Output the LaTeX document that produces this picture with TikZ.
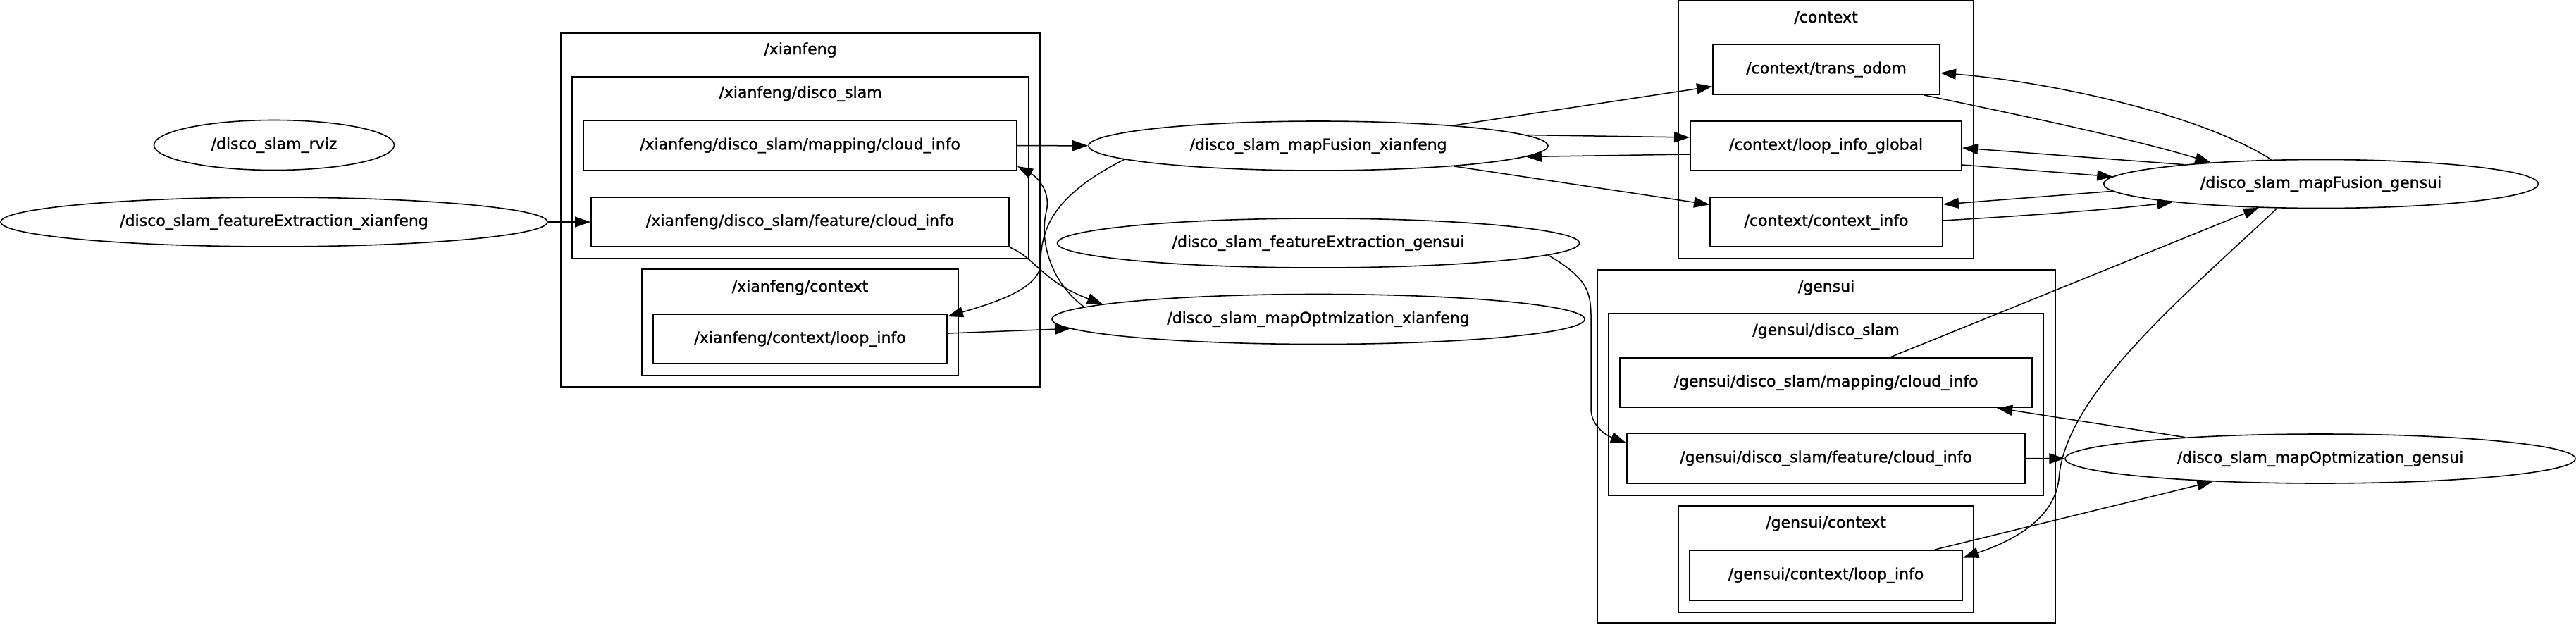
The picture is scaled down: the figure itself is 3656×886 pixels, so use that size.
\documentclass[tikz,border=0pt]{standalone}
\usepackage{fontspec}
\setmainfont[RawFeature={embolden=1.2}]{DejaVu Sans}
\usetikzlibrary{arrows.meta,shapes.geometric}

\begin{document}
\begin{tikzpicture}[
  x=1pt, y=-1pt,
  every node/.style={font=\fontsize{22}{26}\selectfont, inner sep=0pt},
  rosnode/.style={draw, ellipse, line width=1.6pt},
  topic/.style={draw, rectangle, line width=2pt},
  cluster/.style={draw, line width=2pt},
  link/.style={draw, line width=1.5pt, -{Triangle[length=22pt,width=15pt]}}
]
\useasboundingbox (0,0) rectangle (3656,886);

% namespaces
\draw[cluster] (796,47) rectangle (1476,549);
\node (xianfenglbl) at (1136,71) {/xianfeng};
\draw[cluster] (812,109) rectangle (1460,367);
\node (xfslamlbl) at (1136,133) {/xianfeng/disco\_slam};
\draw[cluster] (911,382) rectangle (1360,533);
\node (xfctxlbl) at (1135.5,408) {/xianfeng/context};
\draw[cluster] (2382,1) rectangle (2801,367);
\node (contextlbl) at (2591.5,25) {/context};
\draw[cluster] (2267,383) rectangle (2917,884);
\node (gensuilbl) at (2592,408) {/gensui};
\draw[cluster] (2283,445) rectangle (2900,703);
\node (gsslamlbl) at (2591.5,470) {/gensui/disco\_slam};
\draw[cluster] (2382,718) rectangle (2801,869);
\node (gsctxlbl) at (2591.5,743) {/gensui/context};

% ros nodes
\node[rosnode, minimum width=341pt, minimum height=71pt] (rviz) at (389,206) {/disco\_slam\_rviz};
\node[rosnode, minimum width=776pt, minimum height=70pt] (featxf) at (389,315) {/disco\_slam\_featureExtraction\_xianfeng};
\node[rosnode, minimum width=652pt, minimum height=70pt] (mapfusxf) at (1871,207) {/disco\_slam\_mapFusion\_xianfeng};
\node[rosnode, minimum width=741pt, minimum height=70pt] (featgs) at (1871,345) {/disco\_slam\_featureExtraction\_gensui};
\node[rosnode, minimum width=756pt, minimum height=71pt] (mapoptxf) at (1871,453) {/disco\_slam\_mapOptmization\_xianfeng};
\node[rosnode, minimum width=617pt, minimum height=69pt] (mapfusgs) at (3294,261) {/disco\_slam\_mapFusion\_gensui};
\node[rosnode, minimum width=724pt, minimum height=70pt] (mapoptgs) at (3293,651) {/disco\_slam\_mapOptmization\_gensui};

% topics
\node[topic, minimum width=615pt, minimum height=71pt] (xfmap) at (1135.5,206.5) {/xianfeng/disco\_slam/mapping/cloud\_info};
\node[topic, minimum width=593pt, minimum height=70pt] (xffeat) at (1135.5,315) {/xianfeng/disco\_slam/feature/cloud\_info};
\node[topic, minimum width=417pt, minimum height=70pt] (xfloop) at (1135.5,481) {/xianfeng/context/loop\_info};
\node[topic, minimum width=322pt, minimum height=71pt] (transodom) at (2592,98.5) {/context/trans\_odom};
\node[topic, minimum width=385pt, minimum height=70pt] (loopglobal) at (2591.5,207) {/context/loop\_info\_global};
\node[topic, minimum width=330pt, minimum height=70pt] (contextinfo) at (2592,315) {/context/context\_info};
\node[topic, minimum width=585pt, minimum height=70pt] (gsmap) at (2591.5,543) {/gensui/disco\_slam/mapping/cloud\_info};
\node[topic, minimum width=565pt, minimum height=71pt] (gsfeat) at (2591.5,650.5) {/gensui/disco\_slam/feature/cloud\_info};
\node[topic, minimum width=387pt, minimum height=71pt] (gsloop) at (2591.5,816.5) {/gensui/context/loop\_info};

% xianfeng side
\draw[link] (featxf) -- (xffeat);
\draw[link] (xfmap) -- (mapfusxf);
\draw[link] (mapfusxf.184) .. controls (1500,275) and (1477,320) .. (1477,373)
  .. controls (1477,410) and (1410,430) .. ([yshift=-4pt]xfloop.north east);
\draw[link] (mapoptxf.177) .. controls (1490,400) and (1475,340) .. (1485,300)
  .. controls (1492,270) and (1470,250) .. ([yshift=7pt]xfmap.south east);
\draw[link] (xffeat.south east) .. controls (1468,365) and (1480,400) .. (mapoptxf.176);
\draw[link] (xfloop) -- (mapoptxf);

% context topics
\draw[link] (mapfusxf) -- (transodom);
\draw[link] (mapfusxf.3) -- ([yshift=12pt]loopglobal.west);
\draw[link] ([yshift=-12pt]loopglobal.west) -- (mapfusxf.-3);
\draw[link] (mapfusxf) -- (contextinfo);
\draw[link] (mapfusgs.154) .. controls (3120,160) and (2900,115) .. ([yshift=-5pt]transodom.east);
\draw[link] ([xshift=-23pt]transodom.south east) .. controls (2850,160) and (3020,195) .. (mapfusgs.169);
\draw[link] (mapfusgs.172) -- ([yshift=-3pt]loopglobal.east);
\draw[link] ([yshift=-27pt]loopglobal.east) -- (mapfusgs.178);
\draw[link] (mapfusgs.182) -- ([yshift=25pt]contextinfo.east);
\draw[link] ([yshift=2pt]contextinfo.east) .. controls (2880,306) and (3000,297) .. (mapfusgs.187);

% gensui side
\draw[link] ([xshift=91pt]gsmap.north) -- (mapfusgs.201);
\draw[link] (mapfusgs.209) .. controls (3100,420) and (2930,560) .. (2922,680)
  .. controls (2915,740) and (2850,770) .. ([yshift=25pt]gsloop.east);
\draw[link] (featgs.-3) .. controls (2262,400) and (2258,420) .. (2258,470) -- (2258,580)
  .. controls (2258,605) and (2280,618) .. ([yshift=22pt]gsfeat.west);
\draw[link] (mapoptgs.171) -- ([xshift=-51pt]gsmap.south east);
\draw[link] (gsfeat) -- (mapoptgs);
\draw[link] ([xshift=-40pt]gsloop.north east) -- (mapoptgs.192);
\end{tikzpicture}
\end{document}
